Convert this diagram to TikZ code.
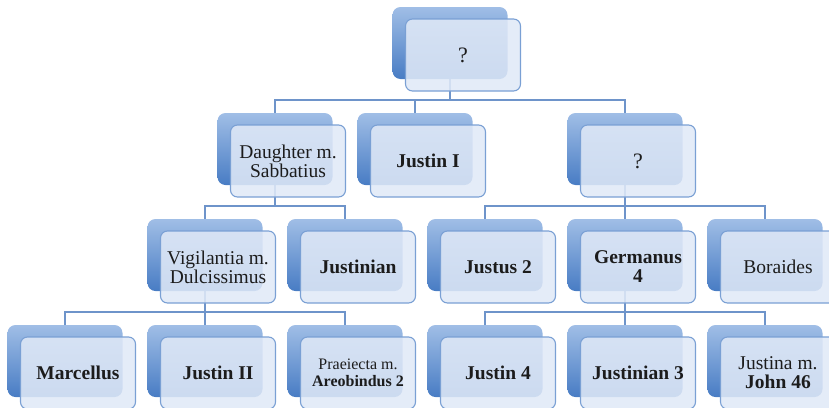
\documentclass[tikz,border=0pt]{standalone}
\usepackage{fontspec}
\setmainfont{Liberation Serif}
\usetikzlibrary{backgrounds}
\definecolor{backtop}{RGB}{160,190,230}
\definecolor{backbot}{RGB}{72,124,196}
\definecolor{frontfill}{RGB}{224,233,247}
\definecolor{frontline}{RGB}{122,160,212}
\definecolor{connline}{RGB}{110,148,202}
\definecolor{txt}{RGB}{28,28,28}
\tikzset{
  backbox/.style={rectangle, rounded corners=8pt, minimum width=115pt, minimum height=72pt,
    inner sep=0pt, top color=backtop, bottom color=backbot, draw=none},
  frontbox/.style={rectangle, rounded corners=7pt, minimum width=115pt, minimum height=72pt,
    inner sep=2pt, draw=frontline, line width=1.1pt, fill=frontfill, fill opacity=0.87,
    text opacity=1, text=txt, align=center, font=\fontsize{19.5}{19}\selectfont},
  conn/.style={draw=connline, line width=1.1pt},
  smalltext/.style={font=\fontsize{16}{17.5}\selectfont},
  bigtext/.style={font=\fontsize{22}{22}\selectfont},
}
% #1 name, #2 x-centre of back box, #3 top of back box, #4 options, #5 text
\newcommand\famnode[5]{%
  \node[backbox] (#1b) at (#2, #3+36) {};
  \node[frontbox,#4] (#1) at (#2+13, #3+48) {#5};
}
\begin{document}
\begin{tikzpicture}[x=1pt,y=-1pt]
\useasboundingbox (0,0) rectangle (829,407);
\clip (0,0) rectangle (829,407);
\coordinate (bus0) at (0,100);
\coordinate (bus1) at (0,206);
\coordinate (bus2) at (0,312);

% level 0
\famnode{top}{450}{7}{bigtext}{?}
% level 1
\famnode{dau}{275}{113}{}{Daughter m.\\Sabbatius}
\famnode{jus1}{415}{113}{}{\textbf{Justin I}}
\famnode{unk}{625}{113}{bigtext}{?}
% level 2
\famnode{vig}{205}{219}{}{Vigilantia m.\\Dulcissimus}
\famnode{jnn}{345}{219}{}{\textbf{Justinian}}
\famnode{jst}{485}{219}{}{\textbf{Justus 2}}
\famnode{ger}{625}{219}{}{\textbf{Germanus}\\\textbf{4}}
\famnode{bor}{765}{219}{}{Boraides}
% level 3
\famnode{mar}{65}{325}{}{\textbf{Marcellus}}
\famnode{jus2}{205}{325}{}{\textbf{Justin II}}
\famnode{pra}{345}{325}{smalltext}{Praeiecta m.\\\textbf{Areobindus 2}}
\famnode{jus4}{485}{325}{}{\textbf{Justin 4}}
\famnode{jnn3}{625}{325}{}{\textbf{Justinian 3}}
\famnode{jna}{765}{325}{}{Justina m.\\\textbf{John 46}}

\begin{pgfonlayer}{background}
  \foreach \c in {dau,jus1,unk}
    \draw[conn] (topb.south) -- (topb.south |- bus0) -| (\c b.north);
  \foreach \c in {vig,jnn}
    \draw[conn] (daub.south) -- (daub.south |- bus1) -| (\c b.north);
  \foreach \c in {jst,ger,bor}
    \draw[conn] (unkb.south) -- (unkb.south |- bus1) -| (\c b.north);
  \foreach \c in {mar,jus2,pra}
    \draw[conn] (vigb.south) -- (vigb.south |- bus2) -| (\c b.north);
  \foreach \c in {jus4,jnn3,jna}
    \draw[conn] (gerb.south) -- (gerb.south |- bus2) -| (\c b.north);
\end{pgfonlayer}
\end{tikzpicture}
\end{document}
